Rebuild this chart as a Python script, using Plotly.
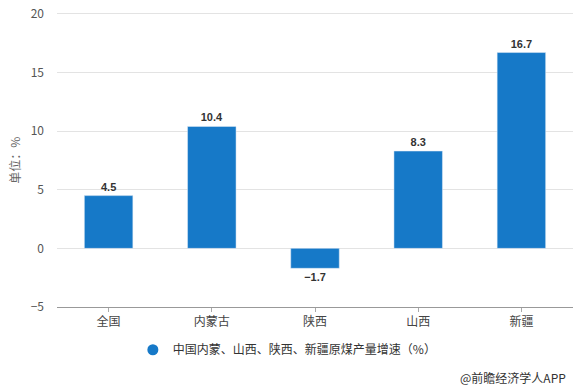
import plotly.graph_objects as go

categories = ["全国", "内蒙古", "陕西", "山西", "新疆"]
values = [4.5, 10.4, -1.7, 8.3, 16.7]
series_name = "中国内蒙、山西、陕西、新疆原煤产量增速（%）"
y_title = "单位：%"
source_text = "@前瞻经济学人APP"

bar_color = "#1679c8"
font_family = "Noto Sans CJK SC, Liberation Sans, sans-serif"

labels = [f"{v:.1f}".replace("-", "−") for v in values]

fig = go.Figure()
fig.add_trace(go.Bar(
    x=categories, y=values, text=labels, textposition="outside",
    textfont=dict(size=11, color="#333333", family="Liberation Sans, Arial, sans-serif", weight="bold"),
    marker=dict(color=bar_color), width=0.47, showlegend=False,
    cliponaxis=False,
))
fig.add_trace(go.Scatter(
    x=[None], y=[None], mode="markers", name=series_name,
    marker=dict(symbol="circle", size=11, color=bar_color),
))

fig.update_layout(
    width=581, height=391,
    margin=dict(l=57, r=8, t=8, b=84),
    paper_bgcolor="white", plot_bgcolor="white",
    font=dict(family=font_family, size=12, color="#555555"),
    showlegend=True,
    legend=dict(orientation="h", x=0.147, xanchor="left", y=-0.143, yanchor="middle",
                font=dict(size=12, color="#333333"), itemwidth=30),
)
fig.update_xaxes(
    showline=True, linecolor="#999999", linewidth=1,
    ticks="outside", ticklen=4, tickcolor="#aaaaaa",
    tickfont=dict(size=12, color="#444444"),
    showgrid=False, automargin=False,
)
fig.update_yaxes(
    range=[-5, 20.5], tickvals=[-5, 0, 5, 10, 15, 20],
    showgrid=True, gridcolor="#e3e3e3", gridwidth=1,
    zeroline=False, showline=False, automargin=False,
    ticklabelstandoff=12,
    tickfont=dict(size=12, color="#555555"),
)
fig.add_annotation(
    text=y_title, xref="paper", yref="paper", x=-0.083, y=0.49,
    xanchor="center", yanchor="middle", textangle=-90, showarrow=False,
    font=dict(size=12, color="#666666"),
)
fig.add_annotation(
    text=source_text, xref="paper", yref="paper", x=0.99, y=-0.236,
    xanchor="right", yanchor="middle", showarrow=False,
    font=dict(size=12, color="#333333"),
)

fig.write_html("out.html", config={"displayModeBar": False},
               post_script="document.body.style.margin='0';")
